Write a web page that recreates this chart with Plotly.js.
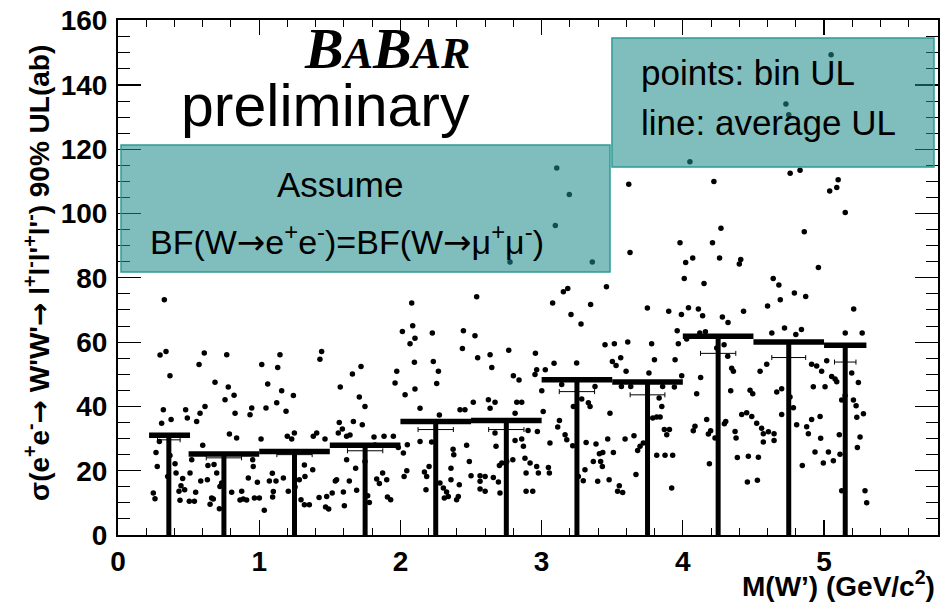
<!DOCTYPE html>
<html>
<head>
<meta charset="utf-8">
<script src="https://cdn.plot.ly/plotly-3.0.1.min.js"></script>
<style>html,body{margin:0;padding:0;background:#fff;}#chart{width:951px;height:602px;}</style>
</head>
<body>
<div id="chart"></div>
<script>
// ---- bin upper limits (points): M(W') in GeV/c^2 ----
const massW = [
0.328,0.298,0.340,0.368,0.321,0.309,0.376,0.269,0.278,0.250,
0.262,0.293,0.352,0.368,0.404,0.411,0.432,0.458,0.446,0.439,
0.479,0.491,0.574,0.611,0.557,0.581,0.616,0.600,0.510,0.522,
0.505,0.541,0.550,0.586,0.633,0.652,0.663,0.675,0.718,0.687,
0.770,0.781,0.822,0.758,0.829,0.789,0.840,0.680,0.699,0.734,
0.722,0.805,0.876,0.887,0.911,0.864,0.923,0.958,0.954,0.935,
0.947,1.018,1.060,1.048,1.013,0.987,1.001,0.966,1.036,1.072,
1.119,1.093,1.131,1.147,1.159,1.124,1.190,1.242,1.199,1.230,
1.249,1.095,1.171,1.206,1.254,1.284,1.296,1.320,1.355,1.320,
1.379,1.324,1.383,1.407,1.442,1.430,1.466,1.424,1.478,1.470,
1.492,1.517,1.539,1.548,1.560,1.567,1.589,1.619,1.643,1.574,
1.660,1.667,1.721,1.709,1.730,1.749,1.596,1.603,1.638,1.619,
1.683,1.690,1.749,1.768,1.780,1.813,1.884,1.820,1.874,1.832,
1.851,1.903,1.908,1.931,1.950,1.974,1.962,1.985,0.472,0.637,1.100,
3.107,3.617,3.196,3.097,2.776,3.359,3.626,3.154,3.185,3.459,
2.540,2.080,3.078,3.347,3.208,3.279,3.749,2.087,2.014,2.103,
2.068,2.226,2.446,2.528,2.439,2.547,2.635,2.647,2.767,2.956,
3.026,3.088,3.001,3.011,3.126,3.114,2.139,2.049,2.021,2.045,
2.026,2.099,2.103,2.233,2.269,2.257,2.139,2.221,2.170,2.186,
2.181,2.203,2.280,2.304,2.327,2.311,2.339,2.358,2.358,2.417,
2.410,2.398,2.378,2.373,2.469,2.488,2.500,2.564,2.600,2.564,
2.564,2.600,2.658,2.694,2.705,2.677,2.670,2.701,2.718,2.753,
2.796,2.812,2.871,2.882,2.918,2.890,2.965,2.977,2.890,2.937,
3.059,3.055,3.048,2.970,2.904,2.859,2.812,2.670,2.623,2.516,
2.457,2.422,2.635,2.033,2.276,2.840,2.800,2.953,2.965,2.824,2.859,
3.449,3.515,3.610,3.779,3.968,3.248,3.501,3.527,3.560,3.598,
3.799,3.760,3.945,3.992,4.027,4.240,4.292,4.318,4.346,4.358,
4.339,4.126,4.098,4.169,4.086,4.074,4.197,4.181,4.228,4.304,
4.294,4.370,4.377,4.386,4.188,3.142,3.378,3.225,3.284,3.331,
3.343,3.484,3.166,3.178,3.220,3.315,3.385,3.468,3.409,3.433,
3.366,3.418,3.430,3.508,3.307,3.260,3.295,3.397,3.478,3.550,
3.538,3.574,3.591,3.654,3.680,3.697,3.720,3.668,3.832,3.851,
3.787,3.815,3.839,3.869,3.886,3.905,3.815,3.874,3.928,3.921,
3.565,3.631,3.857,3.940,
5.05,4.73,4.75,4.05,4.76,4.83,4.22,5.10,5.04,5.09,
5.15,4.86,4.27,3.98,4.21,4.02,4.07,4.26,4.41,4.40,
4.96,4.01,4.15,4.64,4.68,4.79,4.87,4.69,3.90,3.99,
4.04,4.11,4.14,4.28,4.32,4.43,4.60,5.21,3.96,4.12,
4.16,4.63,4.72,4.84,5.15,5.27,4.80,
4.464,4.535,4.457,4.528,4.417,4.452,4.488,4.523,4.558,4.570,
4.606,4.646,4.646,4.570,4.476,4.495,4.547,4.594,4.665,4.700,
4.700,4.759,4.783,4.806,4.846,4.877,4.889,4.912,4.972,4.976,
4.936,5.031,4.995,5.066,4.924,5.007,4.912,4.948,4.983,5.019,
5.054,5.078,5.090,5.125,5.149,5.108,5.113,5.125,5.196,5.208,
5.227,5.243,5.232,5.279,5.255,5.236,5.290,5.302
];
const binUL = [
73.2,56.0,57.1,49.5,39.0,34.8,35.9,25.7,21.3,13.1,
11.3,29.1,18.2,24.7,22.2,19.3,13.6,17.6,15.3,10.8,
39.0,36.4,53.0,56.6,35.3,37.9,40.0,27.9,19.3,23.4,
10.5,10.5,13.3,16.8,17.2,9.6,11.5,11.2,8.2,47.5,
56.1,46.0,43.5,42.1,37.9,31.4,30.2,21.9,19.3,16.2,
15.1,13.3,13.6,11.2,10.9,10.9,17.7,21.3,23.4,37.4,
39.5,53.0,47.0,39.5,29.9,16.4,11.5,11.5,7.7,16.8,
16.8,19.2,52.1,56.1,44.9,41.1,38.5,43.4,30.7,29.9,
31.7,11.8,17.7,13.6,14.9,17.2,11.0,9.4,9.4,21.8,
20.3,18.2,30.7,31.7,57.1,54.7,29.9,11.7,12.0,8.7,
8.1,13.1,16.8,17.2,31.7,35.0,33.0,30.7,31.1,46.0,
50.1,35.3,52.4,42.9,34.3,40.0,13.4,9.1,16.8,23.4,
20.8,13.9,22.9,12.2,10.1,30.5,30.7,28.0,19.3,17.4,
16.0,17.2,11.8,11.0,30.7,50.9,47.3,27.2,14.1,21.6,13.5,
114.2,109.1,105.9,96.3,84.9,84.9,87.9,75.7,76.7,77.2,
74.1,72.2,72.2,71.7,68.6,65.6,70.6,65.1,63.3,61.2,
59.5,62.8,63.5,62.0,58.0,55.1,56.1,52.1,57.5,56.5,
51.4,53.4,44.9,38.4,35.6,33.6,39.4,28.1,25.5,20.0,
18.2,53.7,45.4,54.0,50.9,47.1,29.1,28.9,19.6,18.2,
14.1,21.3,16.2,14.6,13.4,11.5,12.0,20.8,17.2,15.6,
12.0,11.0,25.0,26.7,27.9,22.9,18.4,18.4,18.2,16.7,
14.3,13.6,17.9,16.5,13.1,27.6,31.7,21.6,22.4,22.9,
23.4,29.4,27.6,23.9,22.4,19.3,21.3,19.3,13.6,13.6,
28.6,19.3,21.0,32.2,32.5,29.9,37.9,41.3,42.1,41.3,
39.0,39.0,39.4,43.6,37.3,48.2,49.5,49.9,51.4,41.3,41.3,
59.2,59.5,60.0,59.5,59.5,53.5,54.0,52.7,55.1,50.9,
54.5,50.4,54.5,49.5,61.0,58.2,59.2,55.6,51.9,50.9,
44.9,49.0,43.9,35.9,33.8,32.4,32.4,31.4,30.2,35.3,
34.6,32.2,30.2,24.1,22.2,46.8,46.2,40.0,42.3,41.1,
40.0,37.9,31.2,29.6,27.8,28.8,28.3,29.9,25.3,25.7,
22.9,22.9,21.3,25.7,20.3,18.2,16.9,16.7,17.2,15.3,
13.6,13.2,29.9,30.9,26.3,27.6,28.6,18.8,42.6,40.0,
36.4,36.7,36.7,32.8,31.2,32.8,24.8,24.8,24.8,14.6,
46.2,46.2,46.2,46.0,
149.4,134.1,130.7,116.1,112.5,113.5,110.0,110.5,107.0,108.1,
100.3,94.3,95.4,90.9,90.9,84.8,86.2,86.2,85.7,84.3,
83.2,79.8,78.2,79.8,77.8,75.3,74.2,73.2,69.6,68.6,
70.7,70.3,68.2,67.8,66.1,69.6,71.2,70.3,63.5,62.8,
63.2,62.8,64.4,63.9,62.8,62.8,62.4,
24.5,24.2,16.5,17.0,37.5,38.0,36.9,34.8,33.2,31.5,
32.1,31.5,29.4,28.9,45.0,43.9,50.9,53.1,44.5,45.5,
37.5,42.9,39.6,34.3,21.6,33.7,31.5,35.9,36.9,30.1,
25.8,25.8,22.4,23.1,46.1,46.1,53.1,52.6,50.9,54.2,
49.3,48.5,47.7,42.0,43.4,31.2,25.1,13.8,50.4,42.0,
40.2,47.4,36.6,37.7,30.5,27.2,13.8,10.0
];

// ---- average UL per mass bin (thick line) ----
const binLo     = [0.22, 0.50, 1.00, 1.50, 2.00, 2.50, 3.00, 3.50, 4.00, 4.50, 5.00];
const binHi     = [0.51, 1.00, 1.50, 2.00, 2.50, 3.00, 3.50, 4.00, 4.50, 5.00, 5.30];
const avgUL     = [31.0, 25.2, 26.0, 27.9, 35.3, 35.6, 48.3, 47.6, 61.8, 60.0, 59.0];
const binCenter = [0.36, 0.75, 1.25, 1.75, 2.25, 2.75, 3.25, 3.75, 4.25, 4.75, 5.15];
// ---- thin horizontal error markers ----
const errUL     = [29.6, 24.0, 25.0, 26.2, 32.8, 32.8, 44.6, 43.6, 56.5, 55.2, 53.8];
const errHalf   = [0.08, 0.125, 0.125, 0.125, 0.125, 0.125, 0.125, 0.123, 0.125, 0.12, 0.076];

const xTickVals = [0, 1, 2, 3, 4, 5];
const yTickVals = [0, 20, 40, 60, 80, 100, 120, 140, 160];

const hx = [], hy = [], vx = [], vy = [];
for (let i = 0; i < avgUL.length; i++) {
  hx.push(binLo[i], binHi[i], null); hy.push(avgUL[i], avgUL[i], null);
  vx.push(binCenter[i], binCenter[i], null); vy.push(0, avgUL[i], null);
}

const SANS = 'Liberation Sans, Arial, sans-serif';
const ARROW = '<span style="font-family:DejaVu Sans">→</span>';

const traces = [
  {x: massW, y: binUL, type: 'scatter', mode: 'markers',
   marker: {color: '#000', size: 5.5}, hoverinfo: 'skip'},
  {x: vx, y: vy, type: 'scatter', mode: 'lines',
   line: {color: '#000', width: 5}, hoverinfo: 'skip'},
  {x: hx, y: hy, type: 'scatter', mode: 'lines',
   line: {color: '#000', width: 5.5}, hoverinfo: 'skip'},
  {x: binCenter, y: errUL, type: 'scatter', mode: 'markers',
   marker: {size: 1, color: 'rgba(0,0,0,0)'},
   error_x: {type: 'data', array: errHalf, symmetric: true, color: '#000', thickness: 1, width: 2.5},
   hoverinfo: 'skip'}
];

const axisCommon = {
  showline: true, linecolor: '#000', linewidth: 2, mirror: 'ticks',
  ticks: 'inside', tickcolor: '#000', showgrid: false, zeroline: false,
  tickfont: {family: SANS, size: 28, color: '#000', weight: 'bold'}
};

const layout = {
  width: 951, height: 602,
  margin: {l: 118, r: 13, t: 20, b: 67},
  paper_bgcolor: '#fff', plot_bgcolor: '#fff',
  showlegend: false,
  xaxis: Object.assign({}, axisCommon, {
    range: [0, 5.807], tickvals: xTickVals, ticktext: xTickVals.map(String),
    ticklen: 15, tickwidth: 1.2, ticklabelstandoff: 0,
    minor: {dtick: 0.2, tick0: 0, ticklen: 7, tickwidth: 1, ticks: 'inside', tickcolor: '#000'}
  }),
  yaxis: Object.assign({}, axisCommon, {
    range: [0, 160.2], tickvals: yTickVals, ticktext: yTickVals.map(String),
    ticklen: 23, tickwidth: 1.2, ticklabelstandoff: 3,
    minor: {dtick: 5, tick0: 0, ticklen: 12, tickwidth: 1, ticks: 'inside', tickcolor: '#000'}
  }),
  shapes: [
    {type: 'rect', xref: 'paper', yref: 'paper', x0: 0.0037, x1: 0.600, y0: 0.5107, y1: 0.7573,
     fillcolor: 'rgba(30,140,138,0.57)', line: {color: '#2d9a95', width: 1.5}, layer: 'above'},
    {type: 'rect', xref: 'paper', yref: 'paper', x0: 0.6024, x1: 0.9951, y0: 0.7146, y1: 0.965,
     fillcolor: 'rgba(30,140,138,0.57)', line: {color: '#2d9a95', width: 1.5}, layer: 'above'}
  ],
  annotations: [
    {xref: 'paper', yref: 'paper', x: 0.4317, y: 0.944, xanchor: 'right', yanchor: 'middle', showarrow: false,
     text: '<b><i><span style="font-size:58px">B</span><span style="font-size:44px">A</span><span style="font-size:58px">B</span><span style="font-size:44px">AR</span></i></b>',
     font: {family: 'Liberation Serif, Times New Roman, serif', size: 58, color: '#000'}},
    {xref: 'paper', yref: 'paper', x: 0.4317, y: 0.833, xanchor: 'right', yanchor: 'middle', showarrow: false,
     text: 'preliminary', font: {family: SANS, size: 59, color: '#000'}},
    {xref: 'paper', yref: 'paper', x: 0.2707, y: 0.681, xanchor: 'center', yanchor: 'middle', showarrow: false,
     text: 'Assume', font: {family: SANS, size: 35, color: '#000'}},
    {xref: 'paper', yref: 'paper', x: 0.2793, y: 0.5724, xanchor: 'center', yanchor: 'middle', showarrow: false,
     text: 'BF(W' + ARROW + 'e<sup>+</sup>e<sup>-</sup>)=BF(W' + ARROW + 'μ<sup>+</sup>μ<sup>-</sup>)',
     font: {family: SANS, size: 34, color: '#000'}},
    {xref: 'paper', yref: 'paper', x: 0.6354, y: 0.898, xanchor: 'left', yanchor: 'middle', showarrow: false,
     text: 'points: bin UL', font: {family: SANS, size: 35, color: '#000'}},
    {xref: 'paper', yref: 'paper', x: 0.6354, y: 0.801, xanchor: 'left', yanchor: 'middle', showarrow: false,
     text: 'line: average UL', font: {family: SANS, size: 35, color: '#000'}},
    {xref: 'paper', yref: 'paper', x: -0.098, y: 0.508, xanchor: 'center', yanchor: 'middle', showarrow: false,
     textangle: -90,
     text: '<b>σ(e<sup>+</sup>e<sup>-</sup>' + ARROW + ' W\'W\'' + ARROW + ' l<sup>+</sup>l<sup>-</sup>l\'<sup>+</sup>l\'<sup>-</sup>) 90% UL(ab)</b>',
     font: {family: SANS, size: 28, color: '#000'}},
    {xref: 'paper', yref: 'paper', x: 0.9988, y: -0.096, xanchor: 'right', yanchor: 'middle', showarrow: false,
     text: '<b>M(W’) (GeV/c<sup>2</sup>)</b>', font: {family: SANS, size: 28, color: '#000'}}
  ]
};

Plotly.newPlot('chart', traces, layout, {displayModeBar: false, staticPlot: true});
</script>
</body>
</html>
